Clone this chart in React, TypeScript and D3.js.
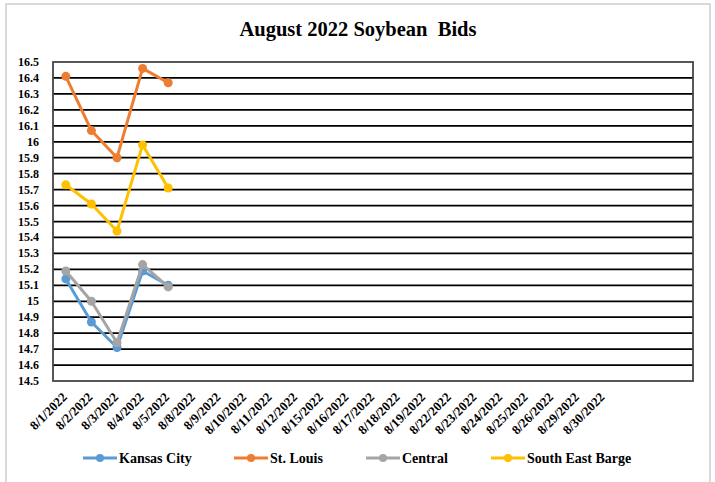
import React from "react";
import * as d3 from "d3";

const categories = [
  "8/1/2022", "8/2/2022", "8/3/2022", "8/4/2022", "8/5/2022", "8/8/2022", "8/9/2022",
  "8/10/2022", "8/11/2022", "8/12/2022", "8/15/2022", "8/16/2022", "8/17/2022", "8/18/2022",
  "8/19/2022", "8/22/2022", "8/23/2022", "8/24/2022", "8/25/2022", "8/26/2022", "8/29/2022",
  "8/30/2022", "_b1", "_b2", "_b3",
];
const kansasCity = [15.14, 14.87, 14.71, 15.19, 15.1];
const stLouis = [16.41, 16.07, 15.9, 16.46, 16.37];
const central = [15.19, 15.0, 14.74, 15.23, 15.09];
const southEastBarge = [15.73, 15.61, 15.44, 15.98, 15.71];
const yTickLabels = [
  "14.5", "14.6", "14.7", "14.8", "14.9", "15", "15.1", "15.2", "15.3", "15.4", "15.5",
  "15.6", "15.7", "15.8", "15.9", "16", "16.1", "16.2", "16.3", "16.4", "16.5",
];

const seriesNames = ["Kansas City", "St. Louis", "Central", "South East Barge"];
const seriesColors = ["#5B9BD5", "#ED7D31", "#A5A5A5", "#FFC000"];
const seriesData = [kansasCity, stLouis, central, southEastBarge];

const W = 715;
const H = 482;
const plot = { left: 53, right: 693, top: 62, bottom: 381 };
const font = "'Liberation Serif', 'DejaVu Serif', 'Times New Roman', serif";
const ts: React.CSSProperties = { fontFamily: font, fontWeight: 700 };

export default function App() {
  const x = d3.scaleBand<string>().domain(categories).range([plot.left, plot.right]).padding(0);
  const y = d3.scaleLinear().domain([14.5, 16.5]).range([plot.bottom, plot.top]);
  const cx = (i: number) => (x(categories[i]) as number) + x.bandwidth() / 2;
  const line = d3
    .line<number>()
    .x((_, i) => cx(i))
    .y((d) => y(d));

  const legendItems = [
    { lx: 83, tx: 119 },
    { lx: 234, tx: 270 },
    { lx: 366, tx: 402 },
    { lx: 491, tx: 527 },
  ];

  return (
    <svg
      width={W}
      height={H}
      style={{ position: "absolute", left: 0, top: 0, background: "#fff", fontFamily: font }}
    >
      <rect x={6} y={4} width={704} height={H + 10} fill="#fff" stroke="#d9d9d9" strokeWidth={2} />
      <text x={358} y={36} textAnchor="middle" fontSize={20.5} style={{ ...ts, whiteSpace: "pre" }} fill="#000">
        {"August 2022 Soybean  Bids"}
      </text>
      {yTickLabels.map((t) => {
        const v = +t;
        const yy = y(v);
        return (
          <g key={t}>
            {v > 14.5 && v < 16.5 && (
              <line x1={plot.left} x2={plot.right} y1={yy} y2={yy} stroke="#000" strokeWidth={1.75} />
            )}
            <text x={39} y={yy + 4} textAnchor="end" fontSize={12} style={ts} fill="#000">
              {t}
            </text>
          </g>
        );
      })}
      <rect
        x={plot.left}
        y={plot.top}
        width={plot.right - plot.left}
        height={plot.bottom - plot.top}
        fill="none"
        stroke="#404040"
        strokeWidth={1.75}
      />
      {categories.map((c, i) =>
        c.startsWith("_") ? null : (
          <text
            key={c}
            transform={`translate(${cx(i) + 2},${plot.bottom + 17}) rotate(-45)`}
            textAnchor="end"
            fontSize={13}
            style={ts}
            fill="#000"
          >
            {c}
          </text>
        )
      )}
      {seriesData.map((s, si) => (
        <g key={seriesNames[si]}>
          <path d={line(s) || ""} fill="none" stroke={seriesColors[si]} strokeWidth={3} strokeLinejoin="round" />
          {s.map((v, i) => (
            <circle key={i} cx={cx(i)} cy={y(v)} r={4.5} fill={seriesColors[si]} />
          ))}
        </g>
      ))}
      {seriesNames.map((n, si) => (
        <g key={n}>
          <line
            x1={legendItems[si].lx}
            x2={legendItems[si].lx + 34}
            y1={458}
            y2={458}
            stroke={seriesColors[si]}
            strokeWidth={3}
          />
          <circle cx={legendItems[si].lx + 17} cy={458} r={4} fill={seriesColors[si]} />
          <text x={legendItems[si].tx} y={463} fontSize={14} style={ts} fill="#000">
            {n}
          </text>
        </g>
      ))}
    </svg>
  );
}
